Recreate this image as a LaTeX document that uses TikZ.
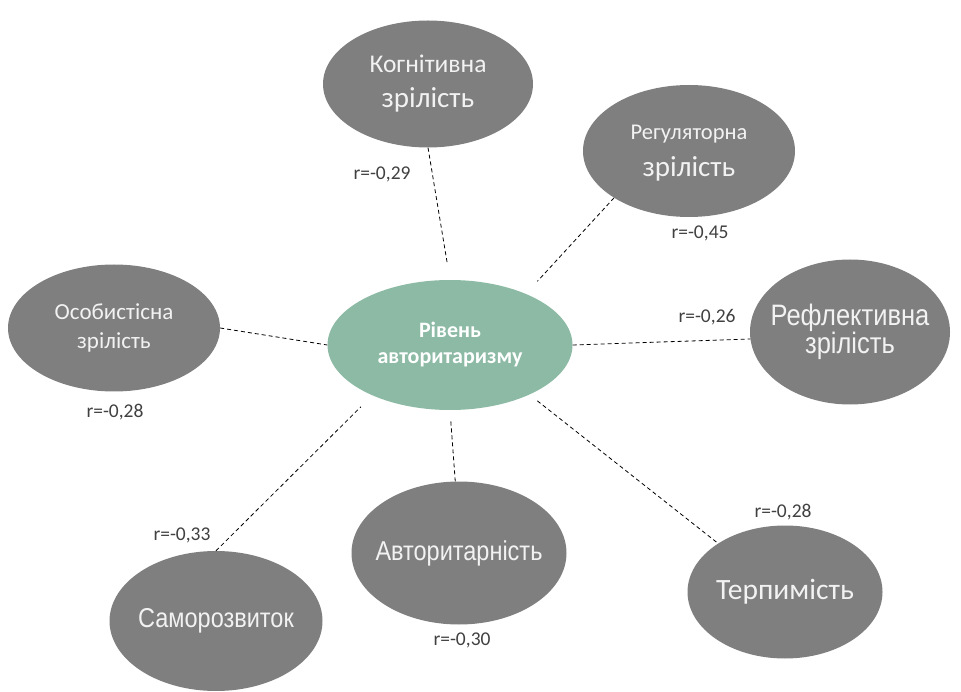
\documentclass[tikz,border=0pt]{standalone}
\usepackage{fontspec}
\usepackage{graphicx}
\setmainfont{Carlito}
\newfontfamily\arialfont{Liberation Sans}
\usetikzlibrary{shapes.geometric}
\definecolor{hubgreen}{RGB}{140,186,165}
\definecolor{bubblegray}{RGB}{127,127,127}
\definecolor{bubbletext}{RGB}{242,242,242}
\definecolor{labelgray}{RGB}{64,64,64}
\newcommand{\tallword}[1]{\scalebox{1}[1.16]{#1}}

\begin{document}
\begin{tikzpicture}[x=1pt,y=-1pt,
        bubble/.style={ellipse,fill=bubblegray,text=bubbletext,inner xsep=-30pt,inner ysep=0pt,align=center},
        hub/.style={ellipse,fill=hubgreen,text=white,inner xsep=-30pt,inner ysep=0pt,align=center,minimum width=245pt,minimum height=130pt},
        rlabel/.style={text=labelgray,inner sep=0pt,font=\fontsize{19.5}{20}\selectfont},
        link/.style={line width=0.8pt,dash pattern=on 4pt off 3pt}]
        \useasboundingbox (0,0) rectangle (961,692);
        % centre
        \node[hub,font=\fontsize{22}{26}\selectfont\bfseries] (ctr) at (450,345) {Рівень\\авторитаризму};
        % outer ellipses
        \node[bubble,minimum width=210pt,minimum height=127pt,font=\fontsize{25.5}{35}\selectfont] (cog) at (428,84) {Когнітивна\\{\fontsize{29}{35}\selectfont зрілість}};
        \node[bubble,minimum width=212pt,minimum height=132pt,text depth=0pt,font=\fontsize{22.5}{37}\selectfont] (reg) at (689,151) {Регуляторна\\{\fontsize{29}{37}\selectfont зрілість}};
        \node[bubble,minimum width=212pt,minimum height=127pt,font=\fontsize{23}{29}\selectfont] (oso) at (114,328) {Особистісна\\зрілість};
        \node[bubble,minimum width=200pt,minimum height=145pt,font=\arialfont\fontsize{25.5}{28}\selectfont] (ref) at (850,332) {\tallword{Рефлективна}\\\tallword{зрілість}};
        \node[bubble,minimum width=213pt,minimum height=140pt,font=\arialfont\fontsize{23.5}{28}\selectfont] (sam) at (216,621) {\tallword{Саморозвиток}};
        \node[bubble,minimum width=215pt,minimum height=143pt,font=\arialfont\fontsize{23.5}{28}\selectfont] (avt) at (459,553) {\tallword{Авторитарність}};
        \node[bubble,minimum width=195pt,minimum height=133pt,font=\fontsize{29.5}{32}\selectfont] (ter) at (785,592) {Терпимість};
        % correlations
        \node[rlabel] (rcog) at (382,174) {r=-0,29};
        \node[rlabel] (rreg) at (700,233) {r=-0,45};
        \node[rlabel] (roso) at (115,412) {r=-0,28};
        \node[rlabel] (rref) at (707,317) {r=-0,26};
        \node[rlabel] (rsam) at (182,535) {r=-0,33};
        \node[rlabel] (ravt) at (462,640) {r=-0,30};
        \node[rlabel] (rter) at (783,512) {r=-0,28};
        % links
        \draw[link,shorten >=15pt] (cog.south) -- (ctr.north);
        \draw[link,shorten >=17pt] (reg.212) -- (ctr.34);
        \draw[link] (oso.east) -- (ctr.west);
        \draw[link] (ctr.east) -- (ref.184);
        \draw[link,shorten <=10pt] (ctr.328) -- (ter.144);
        \draw[link,shorten >=10pt] (avt.93) -- (ctr.south);
        \draw[link,shorten >=16pt] (sam.north) -- (ctr.213);
    \end{tikzpicture}
\end{document}
